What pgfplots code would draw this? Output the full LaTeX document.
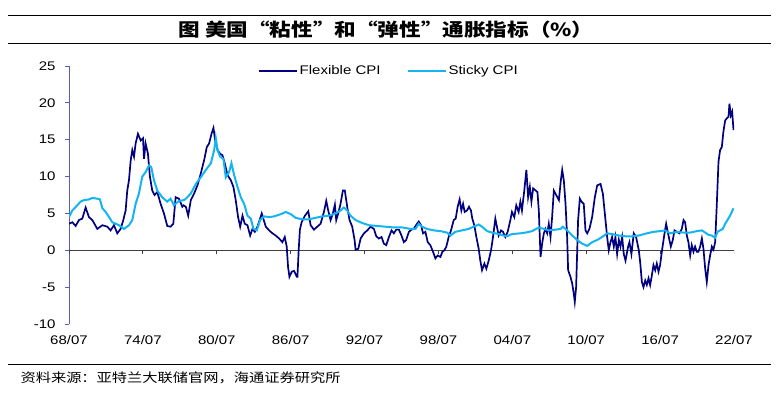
\documentclass[border=0pt]{standalone}
\usepackage{pgfplots}
\pgfplotsset{compat=1.18}
\usepackage{fontspec}
\setmainfont{Liberation Sans}[FakeStretch=1.2]
\newfontfamily\cjk{Noto Sans CJK SC}[FakeStretch=1.2]
\definecolor{flex}{RGB}{0,0,128}
\definecolor{sticky}{RGB}{20,180,240}
\definecolor{axblue}{RGB}{90,90,190}
\begin{document}
\begin{tikzpicture}[x=1pt,y=1pt]
\useasboundingbox (0,0) rectangle (779,397);
\draw[line width=1pt] (8,381) -- (771,381);
\draw[line width=1pt] (8,353) -- (771,353);
\node[font=\cjk\bfseries\fontsize{18}{18}\selectfont] at (386,367) {图\ 美国“粘性”和“弹性”通胀指标（\%）};
\draw[line width=1pt] (8,33) -- (771,33);
\node[anchor=west, font=\cjk\fontsize{12.7}{12.7}\selectfont] at (17,19) {资料来源：亚特兰大联储官网，海通证券研究所};
\begin{axis}[at={(69pt,73pt)}, anchor=south west, scale only axis, width=665pt, height=258pt,
  xmin=1968.5, xmax=2022.5, ymin=-10, ymax=25,
  axis x line*=bottom, axis y line*=left,
  x axis line style={draw=none},
  y axis line style={axblue, line width=0.9pt},
  xtick={1968.5,1974.5,1980.5,1986.5,1992.5,1998.5,2004.5,2010.5,2016.5,2022.5},
  xticklabels={68/07,74/07,80/07,86/07,92/07,98/07,04/07,10/07,16/07,22/07},
  ytick={-10,-5,0,5,10,15,20,25},
  tick label style={font=\fontsize{12.5}{12.5}\selectfont},
  yticklabel style={xshift=-6pt},
  xticklabel style={yshift=-4pt},
  /pgf/number format/assume math mode=true,
  major x tick style={draw=none},
  major y tick style={axblue, line width=0.9pt},
  tick align=outside, major tick length=4pt,
  legend style={draw=none, fill=none, at={(0.481,0.98)}, anchor=center,
    font=\fontsize{12.5}{12.5}\selectfont,
    /tikz/every even column/.append style={column sep=24pt}},
  legend columns=2,
  legend image code/.code={\draw[#1] (0pt,0pt) -- (38pt,0pt);},
]
\draw[black!75, line width=0.9pt] (axis cs:1968.5,0) -- (axis cs:2022.5,0);
\pgfplotsinvokeforeach{1968.5,1974.5,1980.5,1986.5,1992.5,1998.5,2004.5,2010.5,2016.5,2022.5}{
  \draw[black!75, line width=0.9pt] (axis cs:#1,0) -- ++(0pt,-4pt);
}
\addplot[flex, line width=1.7pt] coordinates {
(1968.5,3.6)(1968.77,3.8)(1969.04,3.3)(1969.31,4.1)(1969.58,4.3)(1969.85,5.8)
(1970.12,4.5)(1970.39,4.1)(1970.80,2.9)(1971.21,3.4)(1971.61,3.2)(1971.88,2.7)
(1972.15,3.4)(1972.42,2.3)(1972.69,2.9)(1972.91,4.1)(1973.10,5.4)(1973.23,8.1)
(1973.37,9.5)(1973.51,12.2)(1973.64,13.6)(1973.78,12.7)(1973.91,14.5)(1974.10,15.8)
(1974.32,14.9)(1974.51,15.2)(1974.59,12.4)(1974.72,14.5)(1974.91,13.1)(1975.07,10.0)
(1975.26,8.1)(1975.45,7.5)(1975.67,7.9)(1975.94,6.3)(1976.21,5.0)(1976.48,3.3)
(1976.75,3.2)(1976.97,3.6)(1977.16,7.2)(1977.43,7.0)(1977.70,5.9)(1977.80,6.1)
(1977.99,5.9)(1978.18,4.7)(1978.39,6.8)(1978.66,7.7)(1978.93,8.8)(1979.20,10.4)
(1979.47,12.2)(1979.69,14.0)(1979.88,14.5)(1980.07,15.8)(1980.23,16.6)(1980.37,14.9)
(1980.56,13.6)(1980.77,13.1)(1980.96,12.9)(1981.15,11.8)(1981.37,10.2)(1981.64,9.5)
(1981.85,8.6)(1982.04,6.8)(1982.23,4.5)(1982.40,3.2)(1982.59,4.7)(1982.77,3.6)
(1982.99,3.4)(1983.21,2.0)(1983.40,2.9)(1983.59,2.5)(1983.80,3.2)(1984.02,4.3)
(1984.15,5.0)(1984.48,3.2)(1984.75,2.7)(1985.02,2.3)(1985.29,2.0)(1985.56,1.6)
(1985.83,1.1)(1986.02,1.8)(1986.18,0.5)(1986.29,-2.3)(1986.40,-3.6)(1986.59,-2.9)
(1986.78,-2.8)(1987.0,-3.6)(1987.05,-3.6)(1987.15,0.0)(1987.25,2.8)(1987.39,3.8)
(1987.66,4.7)(1987.93,5.3)(1988.12,3.4)(1988.39,2.8)(1988.66,3.2)(1988.93,3.6)
(1989.2,5.2)(1989.39,6.7)(1989.55,5.4)(1989.74,4.1)(1989.93,5.0)(1990.09,6.2)
(1990.2,4.1)(1990.36,5.0)(1990.55,6.3)(1990.74,8.1)(1990.90,8.1)(1991.09,5.9)
(1991.28,4.1)(1991.5,3.2)(1991.69,1.4)(1991.77,0.1)(1991.99,0.2)(1992.18,1.6)
(1992.45,2.3)(1992.72,2.7)(1992.99,3.2)(1993.26,2.9)(1993.45,1.9)(1993.66,1.6)
(1993.88,1.8)(1994.07,0.9)(1994.26,0.7)(1994.48,1.8)(1994.69,2.7)(1994.88,2.3)
(1995.07,2.8)(1995.29,2.8)(1995.5,2.0)(1995.69,1.1)(1995.88,1.4)(1996.1,2.5)
(1996.31,2.8)(1996.49,2.9)(1996.76,3.6)(1996.9,3.9)(1997.09,3.4)(1997.25,2.3)
(1997.44,2.5)(1997.63,1.1)(1997.84,0.7)(1998.06,-0.2)(1998.25,-1.1)(1998.44,-0.7)
(1998.66,-0.9)(1998.82,-0.2)(1998.98,0)(1999.14,0.5)(1999.33,1.8)(1999.52,2.7)
(1999.74,4.1)(1999.9,4.3)(2000.06,5.9)(2000.22,6.9)(2000.36,5.4)(2000.5,6.3)
(2000.63,5.2)(2000.82,5.4)(2000.98,5.9)(2001.14,5.4)(2001.25,4.3)(2001.41,3.4)
(2001.58,1.8)(2001.77,0.2)(2001.9,-1.4)(2002.04,-2.7)(2002.23,-1.8)(2002.39,-2.5)
(2002.58,-1.4)(2002.77,0)(2002.93,1.8)(2003.12,4.3)(2003.25,3.2)(2003.39,2.0)
(2003.58,2.7)(2003.74,2.5)(2003.93,1.8)(2004.12,2.5)(2004.34,4.1)(2004.47,5.2)
(2004.66,4.5)(2004.82,6.1)(2005.01,5.2)(2005.15,6.6)(2005.28,5.4)(2005.47,8.1)
(2005.64,10.9)(2005.78,7.2)(2005.92,8.6)(2006.05,6.6)(2006.19,8.4)(2006.40,8.1)
(2006.54,7.9)(2006.65,5.4)(2006.79,-0.9)(2006.92,0.9)(2007.06,2.3)(2007.19,2.9)
(2007.33,2.3)(2007.46,3.6)(2007.6,1.8)(2007.73,4.5)(2007.87,8.1)(2008.06,7.5)
(2008.28,6.8)(2008.44,9.5)(2008.55,10.9)(2008.68,9.5)(2008.82,6.3)(2008.95,1.8)
(2009.03,-2.7)(2009.22,-3.6)(2009.36,-4.5)(2009.49,-5.9)(2009.57,-7.0)(2009.68,-5.0)
(2009.76,-0.5)(2009.84,4.1)(2009.98,7.0)(2010.12,6.6)(2010.3,6.3)(2010.44,2.7)
(2010.58,2.3)(2010.76,2.9)(2010.98,4.5)(2011.2,7.2)(2011.39,8.8)(2011.66,9.0)
(2011.85,7.7)(2012.01,5.0)(2012.2,1.8)(2012.33,0)(2012.47,1.1)(2012.6,1.8)
(2012.74,0.5)(2012.87,1.8)(2013.01,-0.5)(2013.15,1.4)(2013.28,0.5)(2013.42,1.8)
(2013.55,-0.5)(2013.69,-1.4)(2013.9,0.5)(2014.01,1.1)(2014.17,-0.5)(2014.36,2.3)
(2014.55,1.8)(2014.77,0)(2014.88,-1.6)(2015.02,-4.3)(2015.15,-5.0)(2015.29,-4.1)
(2015.42,-4.7)(2015.56,-3.8)(2015.69,-4.7)(2015.83,-3.4)(2015.96,-2.0)(2016.1,-2.7)
(2016.23,-1.8)(2016.37,-2.9)(2016.5,-2.0)(2016.64,-0.2)(2016.83,2.0)(2016.99,3.6)
(2017.18,2.0)(2017.37,0.5)(2017.53,1.4)(2017.67,2.7)(2017.86,2.5)(2018.07,2.3)
(2018.26,2.9)(2018.4,4.1)(2018.53,3.8)(2018.67,2.0)(2018.8,1.1)(2018.94,-0.7)
(2019.07,0.7)(2019.21,-0.2)(2019.34,0.5)(2019.48,-0.2)(2019.61,-0.2)(2019.75,0.5)
(2019.89,1.6)(2020.02,0.2)(2020.16,-2.5)(2020.29,-4.3)(2020.43,-2.0)(2020.56,-0.7)
(2020.7,0.5)(2020.83,0.1)(2020.97,1.1)(2021.1,6.1)(2021.24,12.0)(2021.37,13.6)
(2021.51,14.0)(2021.64,16.1)(2021.78,17.6)(2021.91,17.9)(2022.05,18.1)(2022.13,19.9)
(2022.24,18.3)(2022.35,18.8)(2022.46,16.3)
};
\addlegendentry{Flexible CPI}
\addplot[sticky, line width=2pt] coordinates {
(1968.5,4.5)(1968.77,5.4)(1969.17,6.1)(1969.44,6.6)(1969.71,6.8)(1970.12,6.9)
(1970.39,7.1)(1970.80,7.0)(1971.01,6.9)(1971.21,5.7)(1971.48,5.2)(1971.75,4.5)
(1972.02,3.8)(1972.29,3.6)(1972.56,3.4)(1972.96,2.9)(1973.37,3.4)(1973.64,4.1)
(1973.91,6.3)(1974.18,7.7)(1974.45,10.0)(1974.72,10.6)(1974.99,11.5)(1975.18,11.3)
(1975.40,9.5)(1975.67,8.1)(1976.07,7.2)(1976.48,6.6)(1976.75,7.0)(1977.02,6.1)
(1977.43,6.7)(1977.83,6.8)(1977.99,7.0)(1978.39,7.7)(1978.80,9.0)(1979.20,9.9)
(1979.61,10.9)(1980.02,11.8)(1980.29,13.6)(1980.42,15.2)(1980.56,13.6)(1980.77,12.7)
(1981.04,12.4)(1981.23,9.9)(1981.50,10.6)(1981.69,11.8)(1981.91,10.2)(1982.18,8.6)
(1982.45,7.2)(1982.72,6.3)(1982.99,4.7)(1983.26,4.3)(1983.48,2.9)(1983.75,2.7)
(1984.02,4.1)(1984.34,4.6)(1984.75,4.5)(1985.16,4.6)(1985.70,4.9)(1986.10,5.2)
(1986.51,4.9)(1986.91,4.4)(1987.44,4.2)(1987.98,4.2)(1988.52,4.4)(1989.06,4.6)
(1989.6,4.7)(1990.15,5.0)(1990.55,5.4)(1990.82,5.8)(1991.09,5.4)(1991.36,4.7)
(1991.77,4.1)(1992.31,3.7)(1992.85,3.4)(1993.53,3.3)(1994.2,3.2)(1994.88,3.1)
(1995.56,3.1)(1996.23,2.9)(1996.63,2.9)(1996.9,3.6)(1997.17,3.2)(1997.57,2.9)
(1998.11,2.7)(1998.66,2.6)(1999.2,2.4)(1999.47,2.0)(1999.87,2.5)(2000.41,2.7)
(2000.95,2.9)(2001.36,3.2)(2001.77,3.5)(2002.04,3.2)(2002.45,2.6)(2002.85,2.4)
(2003.39,2.2)(2003.8,2.0)(2004.07,1.9)(2004.47,2.2)(2005.15,2.3)(2005.57,2.4)
(2006.11,2.6)(2006.65,3.1)(2007.06,2.9)(2007.46,2.7)(2008.0,2.8)(2008.41,2.9)
(2008.6,3.2)(2008.95,2.7)(2009.36,2.0)(2009.76,1.4)(2010.17,0.9)(2010.58,0.6)
(2010.98,1.1)(2011.39,1.4)(2011.79,1.8)(2012.2,2.3)(2012.6,2.2)(2013.15,2.0)
(2013.69,1.9)(2014.23,1.9)(2014.77,2.0)(2015.42,2.3)(2015.96,2.5)(2016.5,2.6)
(2016.91,2.7)(2017.32,2.3)(2017.86,2.5)(2018.4,2.4)(2018.94,2.4)(2019.48,2.6)
(2019.89,2.7)(2020.16,2.4)(2020.43,2.1)(2020.7,2.0)(2020.97,1.7)(2021.16,2.5)
(2021.37,2.7)(2021.59,2.9)(2021.78,3.6)(2021.97,4.1)(2022.18,4.7)(2022.46,5.7)
};
\addlegendentry{Sticky CPI}
\end{axis}
\end{tikzpicture}
\end{document}
